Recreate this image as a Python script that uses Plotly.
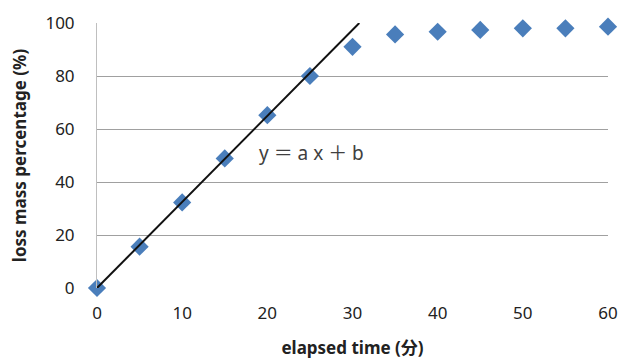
import plotly.graph_objects as go

time_min = [0, 5, 10, 15, 20, 25, 30, 35, 40, 45, 50, 55, 60]
loss_pct = [0, 15.6, 32.3, 48.9, 65.2, 80.0, 91.0, 95.7, 96.7, 97.4, 98.0, 98.0, 98.6]
trend_x = [0, 30.8]
trend_y = [0, 100]
x_ticks = [0, 10, 20, 30, 40, 50, 60]
y_ticks = [0, 20, 40, 60, 80, 100]

font_fam = "Noto Sans, Noto Sans CJK JP, sans-serif"

fig = go.Figure()
fig.add_trace(go.Scatter(
    x=time_min, y=loss_pct, mode="markers",
    marker=dict(symbol="diamond", size=14, color="#4A7EBB"),
    cliponaxis=False, showlegend=False))
fig.add_trace(go.Scatter(
    x=trend_x, y=trend_y, mode="lines",
    line=dict(color="#111111", width=2),
    cliponaxis=False, showlegend=False))

fig.add_annotation(x=25.2, y=51, text="y ＝ a x ＋ b", showarrow=False,
                   font=dict(family=font_fam, size=19, color="#404040"))

fig.update_layout(
    width=619, height=360,
    margin=dict(l=97, r=11, t=23, b=72),
    paper_bgcolor="white", plot_bgcolor="white",
    font=dict(family=font_fam, size=17, color="#222222"),
)
fig.update_xaxes(
    range=[0, 60], tickvals=x_ticks, showgrid=False, zeroline=False,
    showline=False, ticks="outside", ticklen=10, tickcolor="rgba(0,0,0,0)",
    automargin=False,
    title=dict(text="<b>elapsed time (分)</b>", font=dict(size=17), standoff=18),
)
fig.update_yaxes(
    range=[0, 100], tickvals=y_ticks, showgrid=True, gridcolor="#A0A0A0",
    gridwidth=1.3, zeroline=False, showline=True, linecolor="#BFBFBF",
    ticks="outside", ticklen=18, tickcolor="rgba(0,0,0,0)",
    automargin=False,
    title=dict(text="<b>loss mass percentage (%)</b>", font=dict(size=17), standoff=14),
)

fig.write_html(
    "out.html",
    config={"displayModeBar": False},
    post_script="document.body.style.margin='0';document.body.style.overflow='hidden';",
)
